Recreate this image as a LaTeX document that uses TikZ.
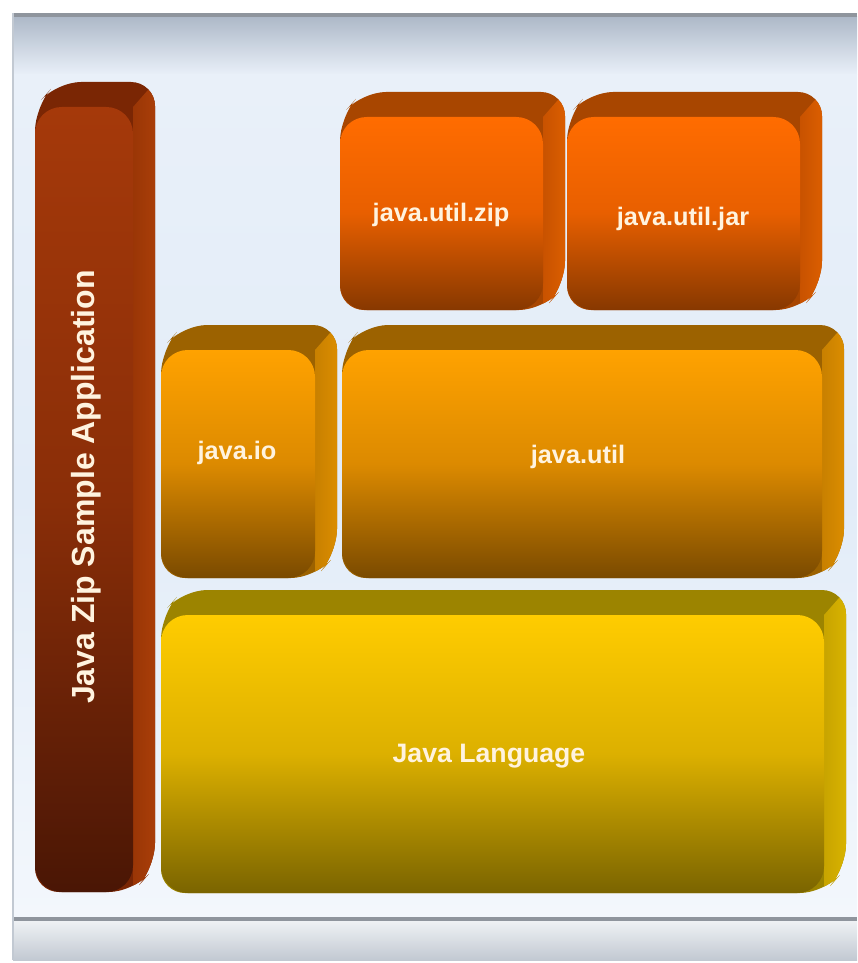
\documentclass[tikz,border=0pt]{standalone}
\usepackage{fontspec}
\setmainfont{Liberation Sans}
% panel colours
\definecolor{lineGrey}{HTML}{8F959D}
\definecolor{bandTop}{HTML}{AEB9C8}
\definecolor{panelA}{HTML}{E9F0F9}
\definecolor{panelM}{HTML}{E2ECF8}
\definecolor{panelB}{HTML}{F3F7FC}
\definecolor{stripA}{HTML}{EEF1F4}
\definecolor{stripB}{HTML}{C2C9D2}
\definecolor{labelcol}{HTML}{FFF3DF}
% bar palette
\definecolor{barT}{HTML}{7A2604}
\definecolor{barS}{HTML}{9A3606}
\definecolor{barL}{HTML}{B8460C}
\definecolor{barA}{HTML}{A5390A}
\definecolor{barM}{HTML}{8A2E08}
\definecolor{barB}{HTML}{4A1605}
% orange (zip/jar) palette
\definecolor{orT}{HTML}{A84600}
\definecolor{orS}{HTML}{C85200}
\definecolor{orL}{HTML}{EE6A00}
\definecolor{orA}{HTML}{FF6C00}
\definecolor{orM}{HTML}{E85F00}
\definecolor{orB}{HTML}{873800}
% amber (io/util) palette
\definecolor{amT}{HTML}{9C6200}
\definecolor{amS}{HTML}{C88000}
\definecolor{amL}{HTML}{EE9A00}
\definecolor{amA}{HTML}{FFA200}
\definecolor{amM}{HTML}{DC8A00}
\definecolor{amB}{HTML}{7A4A00}
% yellow (language) palette
\definecolor{yeT}{HTML}{9C8400}
\definecolor{yeS}{HTML}{C8A400}
\definecolor{yeL}{HTML}{E8C200}
\definecolor{yeA}{HTML}{FFCC00}
\definecolor{yeM}{HTML}{DCB000}
\definecolor{yeB}{HTML}{7A6400}
% 3D slab: #1 palette, #2 x1, #3 y1, #4 x2, #5 y2 (front face, pixel units, y down)
\newcommand{\slab}[5]{%
  \fill[#1T, rounded corners=18pt] (#2,#5) -- (#2,#3) -- (#2+22,#3-25) -- (#4+22,#3-25) -- (#4+22,#5-25) -- (#4,#5) -- cycle;
  \begin{scope}
    \clip[rounded corners=18pt] (#2,#5) -- (#2,#3) -- (#2+22,#3-25) -- (#4+22,#3-25) -- (#4+22,#5-25) -- (#4,#5) -- cycle;
    \shade[left color=#1S, right color=#1L] (#4,#3) -- (#4+44,#3-50) -- (#4+44,#5+40) -- (#4,#5+40) -- cycle;
  \end{scope}
  \shade[top color=#1A, bottom color=#1B, middle color=#1M, rounded corners=20pt] (#2,#3) rectangle (#4,#5);
}
\begin{document}
\begin{tikzpicture}[x=0.75pt,y=-0.75pt,
  lbl/.style={text=labelcol, font=\bfseries\fontsize{19pt}{23pt}\selectfont, inner sep=0pt}]
\useasboundingbox (0,0) rectangle (857,963);
\fill[white] (0,0) rectangle (857,963);
% panel background
\shade[top color=bandTop, bottom color=panelA] (13,17) rectangle (857,75);
\shade[top color=panelA, bottom color=panelB, middle color=panelM] (13,75) rectangle (857,917);
\fill[lineGrey] (13,13) rectangle (857,17);
\fill[lineGrey] (13,917) rectangle (857,921);
\shade[top color=stripA, bottom color=stripB] (13,921) rectangle (857,960);
\draw[stripB, line width=1pt] (13,13) -- (13,960);
% slabs
\slab{bar}{35}{107}{133}{892}
\slab{or}{340}{117}{543}{310}
\slab{or}{567}{117}{800}{310}
\slab{am}{161}{350}{315}{578}
\slab{am}{342}{350}{822}{578}
\slab{ye}{161}{615}{824}{893}
% labels
\node[lbl, rotate=90, font=\bfseries\fontsize{24pt}{28pt}\selectfont] (app) at (86,487) {Java Zip Sample Application};
\node[lbl] (zip) at (441,215) {java.util.zip};
\node[lbl] (jar) at (683,219) {java.util.jar};
\node[lbl] (io) at (237,453) {java.io};
\node[lbl] (util) at (578,457) {java.util};
\node[lbl, font=\bfseries\fontsize{20pt}{24pt}\selectfont] (lang) at (489,756) {Java Language};
\end{tikzpicture}
\end{document}
